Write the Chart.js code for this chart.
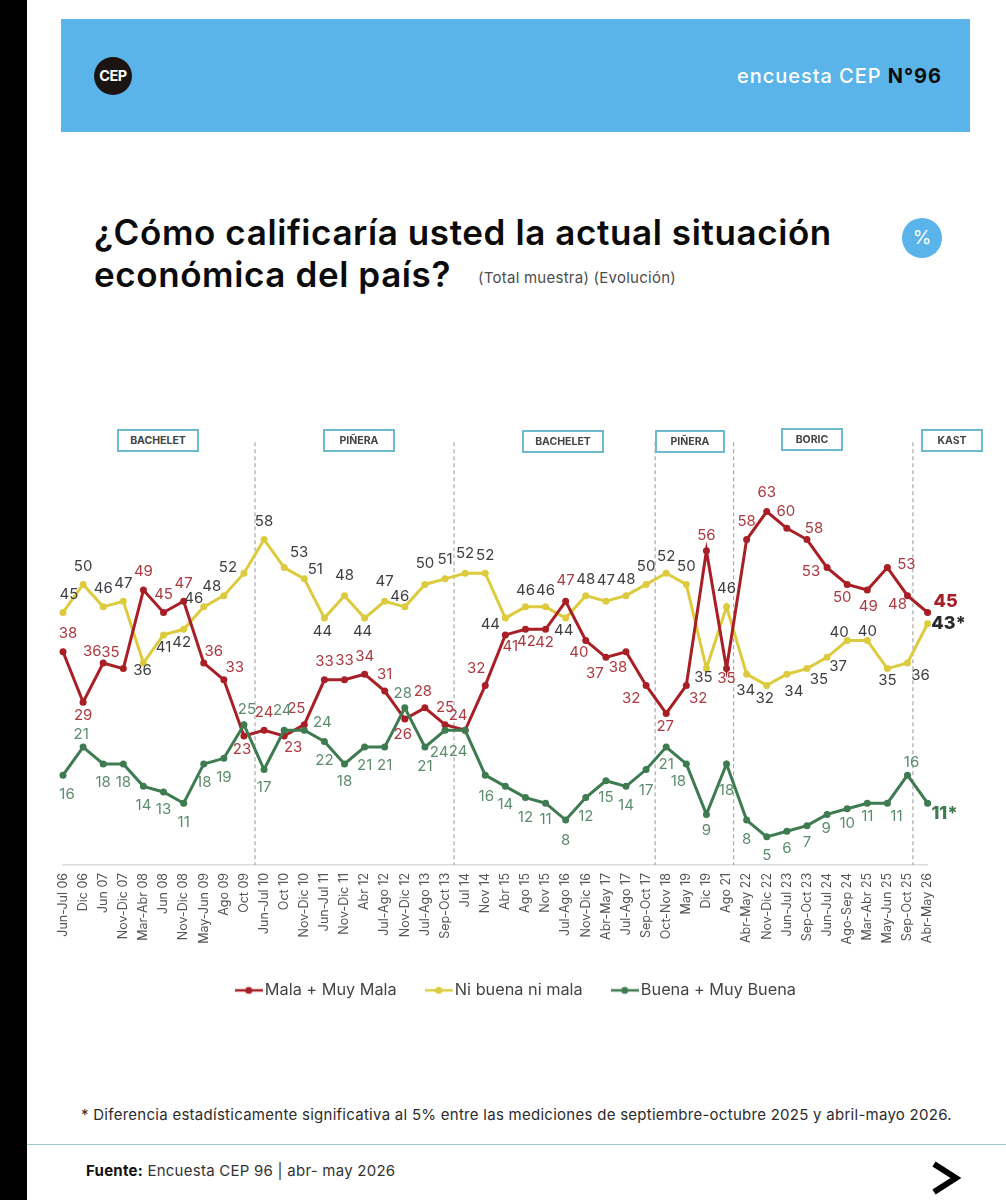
<!DOCTYPE html>
<html lang="es">
<head>
<meta charset="utf-8">
<title>Encuesta CEP 96</title>
<script src="https://cdn.jsdelivr.net/npm/chart.js@4"></script>
<style>
  html, body { margin: 0; padding: 0; background: #fff; }
  body { position: relative; width: 1006px; height: 1200px; overflow: hidden; font-family: Inter, "Noto Sans", sans-serif; color: #111; }
  .abs { position: absolute; white-space: nowrap; }
  #strip { left: 0; top: 0; width: 27px; height: 1200px; background: #000; }
  #header { left: 61px; top: 19px; width: 909px; height: 113px; background: #5AB4EA; }
  #logo { left: 94px; top: 57px; width: 38px; height: 38px; border-radius: 50%; background: #1b1412; color: #fff; font-weight: 700; font-size: 14.5px; line-height: 38px; text-align: center; letter-spacing: -.5px; }
  #survey { right: 64px; top: 64px; font-size: 20px; line-height: 24px; font-weight: 500; color: #fff; letter-spacing: .95px; }
  #survey b { color: #0c0c0c; font-weight: 700; }
  .title { left: 94px; font-size: 35px; line-height: 42px; font-weight: 600; color: #0b0b0b; letter-spacing: .6px; }
  #sub { left: 478px; top: 268px; font-size: 15px; line-height: 20px; color: #4c4c4c; letter-spacing: .25px; }
  #pct { left: 902px; top: 218px; width: 40px; height: 40px; border-radius: 50%; background: #5AB4EA; color: #fff; font-size: 19px; line-height: 40px; text-align: center; }
  .tag { box-sizing: border-box; height: 23px; border: 2px solid #6FB9CF; background: #fff; font-size: 10.5px; font-weight: 700; color: #444; line-height: 19px; text-align: center; z-index: 2; }
  #chart { position: absolute; left: 0; top: 420px; }
  #note { left: 81px; top: 1105px; font-size: 15px; line-height: 20px; color: #2c2c2c; letter-spacing: .27px; }
  #rule { left: 27px; top: 1144px; width: 979px; height: 1px; background: #9ccdd3; }
  #source { left: 86px; top: 1161px; font-size: 15px; line-height: 20px; color: #333; letter-spacing: .25px; }
  #source b { color: #111; font-weight: 700; }
  #arrow { left: 931px; top: 1161px; }
</style>
</head>
<body>
<div class="abs" id="strip"></div>
<div class="abs" id="header"></div>
<div class="abs" id="logo">CEP</div>
<div class="abs" id="survey">encuesta CEP <b>N°96</b></div>
<div class="abs title" style="top:211px">¿Cómo calificaría usted la actual situación</div>
<div class="abs title" style="top:253px">económica del país?</div>
<div class="abs" id="sub">(Total muestra) (Evolución)</div>
<div class="abs" id="pct">%</div>

<canvas id="chart" width="1006" height="590"></canvas>

<div class="abs tag" style="left:117px;top:429px;width:82px">BACHELET</div>
<div class="abs tag" style="left:323px;top:429px;width:72px">PIÑERA</div>
<div class="abs tag" style="left:522px;top:430px;width:82px">BACHELET</div>
<div class="abs tag" style="left:655px;top:430px;width:70px">PIÑERA</div>
<div class="abs tag" style="left:781px;top:428px;width:62px">BORIC</div>
<div class="abs tag" style="left:921px;top:429px;width:62px">KAST</div>

<div class="abs" id="note">* Diferencia estadísticamente significativa al 5% entre las mediciones de septiembre-octubre 2025 y abril-mayo 2026.</div>
<div class="abs" id="rule"></div>
<div class="abs" id="source"><b>Fuente:</b> Encuesta CEP 96 | abr- may 2026</div>
<svg class="abs" id="arrow" width="30" height="34" viewBox="0 0 30 34"><polyline points="3,3 25,17 3,31" fill="none" stroke="#000" stroke-width="6"/></svg>

<script>
const categories = ['Jun-Jul 06', 'Dic 06', 'Jun 07', 'Nov-Dic 07', 'Mar-Abr 08', 'Jun 08', 'Nov-Dic 08', 'May-Jun 09', 'Ago 09', 'Oct 09',
  'Jun-Jul 10', 'Oct 10', 'Nov-Dic 10', 'Jun-Jul 11', 'Nov-Dic 11', 'Abr 12', 'Jul-Ago 12', 'Nov-Dic 12', 'Jul-Ago 13', 'Sep-Oct 13',
  'Jul 14', 'Nov 14', 'Abr 15', 'Ago 15', 'Nov 15', 'Jul-Ago 16', 'Nov-Dic 16', 'Abr-May 17', 'Jul-Ago 17', 'Sep-Oct 17',
  'Oct-Nov 18', 'May 19', 'Dic 19', 'Ago 21', 'Abr-May 22', 'Nov-Dic 22', 'Jun-Jul 23', 'Sep-Oct 23', 'Jun-Jul 24', 'Ago-Sep 24',
  'Mar-Abr 25', 'May-Jun 25', 'Sep-Oct 25', 'Abr-May 26'];

const mala = [38, 29, 36, 35, 49, 45, 47, 36, 33, 23, 24, 23, 25, 33, 33, 34, 31, 26, 28, 25, 24, 32, 41, 42, 42, 47, 40, 37, 38, 32, 27, 32, 56, 35, 58, 63, 60, 58, 53, 50, 49, 53, 48, 45];
const niNi = [45, 50, 46, 47, 36, 41, 42, 46, 48, 52, 58, 53, 51, 44, 48, 44, 47, 46, 50, 51, 52, 52, 44, 46, 46, 44, 48, 47, 48, 50, 52, 50, 35, 46, 34, 32, 34, 35, 37, 40, 40, 35, 36, 43];
const buena = [16, 21, 18, 18, 14, 13, 11, 18, 19, 25, 17, 24, 24, 22, 18, 21, 21, 28, 21, 24, 24, 16, 14, 12, 11, 8, 12, 15, 14, 17, 21, 18, 9, 18, 8, 5, 6, 7, 9, 10, 11, 11, 16, 11];

// government changes, as positions along the category axis
const govChanges = [9.55, 19.45, 29.45, 33.35, 42.27];

/* ---- label nudges [dx, dy] in px, one per point ---- */
const malaNudge = [[5,-18],[0,13],[-11,-11],[-13,-16],[0,-19],[0,-18],[0,-18],[10,-11],[11,-12],[-2,14],
  [0,-18],[9,12],[-8,-16],[0,-18],[0,-19],[0,-18],[0,-17],[-2,15],[-2,-16],[0,-17],
  [-7,-15],[-9,-17],[5,12],[1,12],[-1,13],[0,-21],[-7,12],[-11,16],[-8,16],[-15,13],
  [-1,13],[12,13],[0,-15],[0,10],[0,-18],[0,-19],[-1,-17],[7,-11],[-16,4],[-5,13],
  [1,16],[19,-3],[-10,9],[18,-11]];
const niNudge = [[6,-18],[0,-18],[0,-18],[0,-18],[-1,8],[0,13],[-2,13],[-10,-8],[-12,-9],[-16,-6],
  [0,-18],[15,-15],[11,-9],[-2,13],[0,-20],[-2,13],[0,-20],[-5,-10],[0,-21],[0,-19],
  [0,-20],[0,-18],[-15,6],[0,-16],[0,-16],[-2,12],[0,-16],[0,-21],[0,-16],[0,-18],
  [0,-17],[0,-18],[-3,9],[0,-18],[-1,16],[-2,13],[7,17],[12,11],[11,9],[-8,-8],
  [0,-9],[0,12],[13,13],[21,0]];
const buenaNudge = [[4,19],[-2,-13],[0,19],[0,19],[0,19],[0,18],[0,19],[0,19],[0,19],[3,-15],
  [0,18],[-2,-20],[18,-8],[0,19],[0,18],[0,18],[0,18],[-2,-14],[0,19],[-6,22],
  [-7,21],[1,21],[0,18],[0,20],[0,16],[0,20],[0,19],[0,17],[0,19],[0,21],
  [0,17],[-8,18],[0,16],[0,27],[0,19],[0,19],[0,17],[0,17],[-1,14],[0,15],
  [0,13],[9,13],[4,-13],[17,10]];

/* ---- legend marker: short line with a dot ---- */
function legendMarker(color) {
  const c = document.createElement('canvas');
  c.width = 28; c.height = 10;
  const g = c.getContext('2d');
  g.strokeStyle = color; g.fillStyle = color; g.lineWidth = 2.5;
  g.beginPath(); g.moveTo(0, 5); g.lineTo(28, 5); g.stroke();
  g.beginPath(); g.arc(14, 5, 3.5, 0, Math.PI * 2); g.fill();
  return c;
}

function series(label, data, color, order, labelColor, lastColor, star, nudge) {
  return {
    label, data, order,
    borderColor: color, backgroundColor: color,
    pointBackgroundColor: color, pointBorderColor: color,
    borderWidth: 3, pointRadius: 3.5, pointBorderWidth: 0, tension: 0,
    labelColor, lastColor, star, nudge,
  };
}

const govLines = {
  id: 'govLines',
  beforeDatasetsDraw(chart) {
    const { ctx, chartArea, scales } = chart;
    ctx.save();
    ctx.strokeStyle = '#a9a9ad';
    ctx.lineWidth = 1.2;
    ctx.setLineDash([4, 3]);
    govChanges.forEach((g) => {
      const x = scales.x.getPixelForValue(g);
      ctx.beginPath();
      ctx.moveTo(x, chartArea.top - 2);
      ctx.lineTo(x, chartArea.bottom);
      ctx.stroke();
    });
    ctx.restore();
  },
};

const pointLabels = {
  id: 'pointLabels',
  afterDatasetsDraw(chart) {
    const { ctx } = chart;
    ctx.save();
    ctx.textAlign = 'center';
    ctx.textBaseline = 'middle';
    chart.data.datasets.forEach((ds, d) => {
      const pts = chart.getDatasetMeta(d).data;
      ds.data.forEach((v, i) => {
        const last = i === ds.data.length - 1;
        const [dx, dy] = ds.nudge[i];
        ctx.font = last ? '800 18px Inter, sans-serif' : '400 15px Inter, sans-serif';
        ctx.fillStyle = last ? ds.lastColor : ds.labelColor;
        ctx.fillText(last ? v + ds.star : String(v), pts[i].x + dx, pts[i].y + dy);
      });
    });
    ctx.restore();
  },
};

// the legend in the reference sits right of the plot centre
const legendShift = {
  id: 'legendShift',
  afterLayout(chart) {
    chart.legend.left += 23;
    chart.legend.right += 23;
  },
};

new Chart(document.getElementById('chart'), {
  type: 'line',
  data: {
    labels: categories,
    datasets: [
      series('Mala + Muy Mala', mala, '#A81F26', 1, '#AC3A40', '#A81F26', '', malaNudge),
      series('Ni buena ni mala', niNi, '#DDCB3F', 2, '#3d3d42', '#2a2a2e', '*', niNudge),
      series('Buena + Muy Buena', buena, '#3E7B50', 0, '#5C8C6C', '#3E7B50', '*', buenaNudge),
    ],
  },
  options: {
    responsive: false,
    animation: false,
    devicePixelRatio: 1,
    layout: { padding: { left: 63, right: 78.4, top: 24.2, bottom: 1.5 } },
    plugins: {
      tooltip: { enabled: false },
      legend: {
        position: 'bottom',
        labels: {
          usePointStyle: true,
          pointStyleWidth: 16,
          padding: 34,
          color: '#444',
          font: { family: 'Inter, sans-serif', size: 16.3 },
          generateLabels: (chart) => chart.data.datasets.map((ds, i) => ({
            text: ds.label,
            pointStyle: legendMarker(ds.borderColor),
            datasetIndex: i,
            fontColor: '#444',
            lineWidth: 0,
          })),
        },
      },
    },
    scales: {
      x: {
        offset: false,
        grid: { display: false, drawTicks: false },
        border: { display: true, color: '#dcdcdc', width: 1.5 },
        ticks: {
          autoSkip: false, minRotation: 90, maxRotation: 90, padding: 8,
          color: '#555', font: { family: 'Inter, sans-serif', size: 12.5 },
        },
        afterFit: (scale) => { scale.height = 83.3; },
      },
      y: { display: false, min: 0, max: 75 },
    },
  },
  plugins: [govLines, pointLabels, legendShift],
});
</script>
</body>
</html>
